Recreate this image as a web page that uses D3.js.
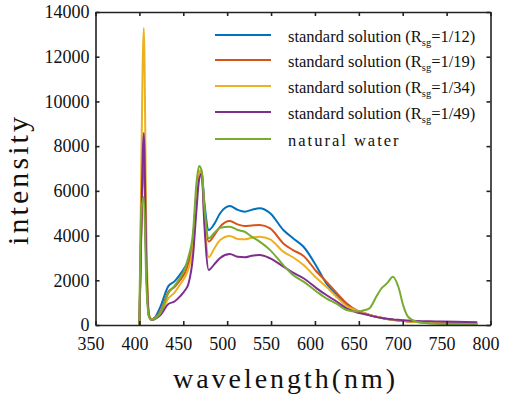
<!DOCTYPE html>
<html>
<head>
<meta charset="utf-8">
<script src="https://cdn.jsdelivr.net/npm/d3@7"></script>
<style>
  html, body { margin: 0; padding: 0; background: #fff; }
  svg { display: block; }
  text { font-family: "Liberation Serif", "Times New Roman", serif; fill: #111; }
</style>
</head>
<body>
<svg id="chart" width="505" height="397"></svg>
<script>
// ---- data ----
const wavelength = [400, 402, 405, 408, 411, 414, 418, 424, 433, 440, 446, 452, 456, 461, 465, 468, 471, 474, 479, 485, 492, 503, 512, 520, 528, 537, 549, 564, 575, 587, 602, 613, 625, 636, 648, 657, 662, 670, 675, 682, 689, 695, 701, 706, 716, 738, 760, 785];

const std12 = [0, 4000, 8000, 2500, 400, 250, 350, 820, 1740, 1950, 2240, 2600, 2900, 3800, 5900, 6900, 6800, 5500, 4250, 4500, 5000, 5320, 5150, 5070, 5150, 5220, 5000, 4250, 3880, 3500, 2610, 1860, 1340, 890, 640, 520, 450, 370, 330, 270, 230, 200, 190, 170, 150, 100, 70, 50];
const std19 = [0, 3800, 7800, 2400, 400, 250, 330, 600, 1490, 1700, 1980, 2350, 2760, 3700, 5900, 6900, 6800, 5200, 3730, 4000, 4400, 4650, 4500, 4430, 4450, 4470, 4320, 3650, 3350, 3090, 2380, 1940, 1420, 970, 640, 520, 450, 370, 330, 270, 230, 200, 180, 160, 130, 90, 60, 40];
const std34 = [0, 6500, 13280, 4000, 500, 240, 300, 530, 1190, 1450, 1790, 2150, 2530, 3500, 5900, 6900, 6800, 4800, 3030, 3400, 3800, 3980, 3850, 3830, 3900, 3950, 3830, 3280, 3030, 2680, 2090, 1710, 1240, 850, 640, 520, 450, 370, 330, 270, 230, 200, 180, 160, 130, 90, 60, 40];
const std49 = [0, 4200, 8590, 2700, 400, 220, 280, 450, 940, 1050, 1270, 1550, 1860, 3050, 5140, 6500, 6780, 4500, 2460, 2700, 3000, 3175, 3050, 3030, 3100, 3130, 2980, 2610, 2340, 2090, 1640, 1340, 1040, 745, 560, 480, 430, 360, 320, 280, 250, 230, 210, 200, 180, 160, 140, 120];
const natural = [0, 5000, 5720, 1800, 350, 220, 300, 530, 1420, 1750, 2090, 2550, 3060, 4100, 6340, 7110, 6900, 5300, 3880, 4100, 4350, 4400, 4250, 4170, 3950, 3730, 3350, 2680, 2240, 1940, 1490, 1190, 940, 670, 600, 670, 745, 1270, 1600, 1860, 2160, 1710, 820, 370, 150, 60, 40, 30];

const seriesNames = ["1/12", "1/19", "1/34", "1/49", "natural water"];
const seriesValues = [std12, std19, std34, std49, natural];
const seriesColors = ["#0072BD", "#D95319", "#EDB120", "#7E2F8E", "#77AC30"];

const xTicks = [350, 400, 450, 500, 550, 600, 650, 700, 750, 800];
const yTicks = [0, 2000, 4000, 6000, 8000, 10000, 12000, 14000];

// ---- layout ----
const svg = d3.select("#chart");
const L = 95.5, R = 490.5, T = 12, B = 325;
const SERIF = "Liberation Serif, Times New Roman, serif";

const x = d3.scaleLinear().domain([350, 800]).range([L, R]);
const y = d3.scaleLinear().domain([0, 14000]).range([B, T]);

// lines
const line = d3.line()
  .x(d => x(d[0]))
  .y(d => y(d[1]))
  .curve(d3.curveMonotoneX);

const plot = svg.append("g");
seriesValues.forEach((vals, i) => {
  const pts = wavelength.map((w, j) => [w, vals[j]]);
  plot.append("path")
    .datum(pts)
    .attr("d", line)
    .attr("fill", "none")
    .attr("stroke", seriesColors[i])
    .attr("stroke-width", 2)
    .attr("stroke-linejoin", "round");
});

// axes
function styleAxis(g) {
  g.attr("font-family", SERIF).attr("font-size", 18);
  g.select(".domain").attr("stroke", "#222").attr("stroke-width", 1.6);
  g.selectAll(".tick line").attr("stroke", "#222").attr("stroke-width", 1.6);
  g.selectAll(".tick text").attr("fill", "#111");
}
const fmt = d3.format("d");
const gx = svg.append("g").attr("transform", `translate(0,${B})`)
  .call(d3.axisBottom(x).tickValues(xTicks).tickFormat(fmt).tickSize(-4).tickSizeOuter(0).tickPadding(12));
styleAxis(gx);
gx.selectAll(".tick text").attr("dx", -5);

const gy = svg.append("g").attr("transform", `translate(${L},0)`)
  .call(d3.axisLeft(y).tickValues(yTicks).tickFormat(fmt).tickSize(-4).tickSizeOuter(0).tickPadding(6));
styleAxis(gy);

const gt = svg.append("g").attr("transform", `translate(0,${T})`)
  .call(d3.axisTop(x).tickValues(xTicks).tickSize(-4).tickSizeOuter(0).tickFormat(""));
styleAxis(gt);
const gr = svg.append("g").attr("transform", `translate(${R},0)`)
  .call(d3.axisRight(y).tickValues(yTicks).tickSize(-4).tickSizeOuter(0).tickFormat(""));
styleAxis(gr);

// axis titles
svg.append("text")
  .attr("transform", "translate(28,181) rotate(-90)")
  .attr("text-anchor", "middle")
  .attr("font-family", SERIF)
  .attr("font-size", 30)
  .attr("textLength", 128)
  .attr("lengthAdjust", "spacing")
  .text("intensity");

svg.append("text")
  .attr("x", 284).attr("y", 388)
  .attr("text-anchor", "middle")
  .attr("font-family", SERIF)
  .attr("font-size", 28)
  .attr("textLength", 222)
  .attr("lengthAdjust", "spacing")
  .text("wavelength(nm)");

// legend
const legY = [35, 60, 86, 112, 139];
const leg = svg.append("g").attr("font-family", SERIF);
seriesNames.forEach((name, i) => {
  leg.append("line")
    .attr("x1", 215).attr("x2", 271)
    .attr("y1", legY[i]).attr("y2", legY[i])
    .attr("stroke", seriesColors[i]).attr("stroke-width", 2);
  const t = leg.append("text")
    .attr("x", 288).attr("y", legY[i] + 6.5)
    .attr("font-size", 16.5);
  if (i < 4) {
    t.append("tspan").text("standard solution (R");
    t.append("tspan").attr("font-size", 10.5).attr("dy", 4).text("sg");
    t.append("tspan").attr("dy", -4).text("=" + name + ")");
  } else {
    t.attr("letter-spacing", 2).text(name);
  }
});
</script>
</body>
</html>
